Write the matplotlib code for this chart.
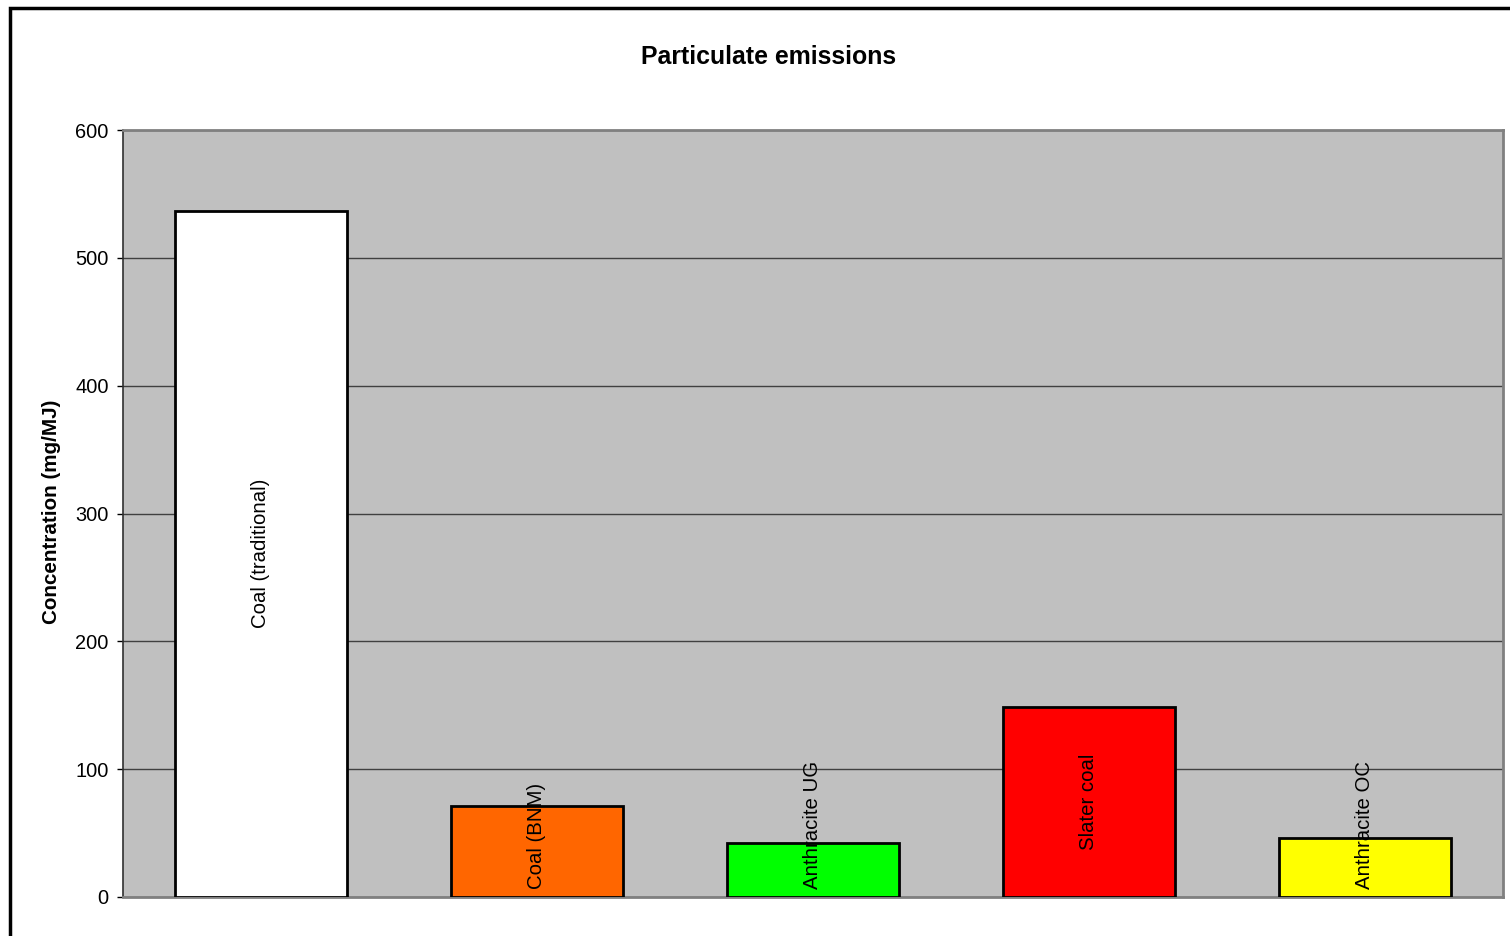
import matplotlib.pyplot as plt
from matplotlib.patches import Rectangle

plt.rcParams['font.family'] = ['Liberation Sans', 'DejaVu Sans']

fuels = ['Coal (traditional)', 'Coal (BNM)', 'Anthracite UG', 'Slater coal', 'Anthracite OC']
emissions = [537, 71, 42, 149, 46]
bar_colors = ['#FFFFFF', '#FF6600', '#00FF00', '#FF0000', '#FFFF00']
yticks = [0, 100, 200, 300, 400, 500, 600]

W, H = 1510, 936
fig = plt.figure(figsize=(W / 100, H / 100), dpi=100)

# outer chart border (only top and left visible in the original)
fig.patches.append(Rectangle((10 / W, -0.1), 1.2, 1.1 - 8 / H, transform=fig.transFigure,
                             fill=False, edgecolor='black', linewidth=2.5, clip_on=False))

ax = fig.add_axes([123 / W, (H - 897) / H, 1380 / W, 767 / H])
ax.set_facecolor('#C0C0C0')

x = range(len(fuels))
ax.bar(x, emissions, width=0.625, color=bar_colors, edgecolor='black', linewidth=2, zorder=3)

ax.set_xlim(-0.5, len(fuels) - 0.5)
ax.set_ylim(0, 600)
ax.set_yticks(yticks)
ax.tick_params(axis='y', labelsize=14.4, length=4.3, width=1, color='black', pad=6)
ax.set_xticks([])
ax.yaxis.grid(True, color='#404040', linewidth=1)
ax.set_axisbelow(True)

for side in ['top', 'right']:
    ax.spines[side].set_color('#808080')
    ax.spines[side].set_linewidth(2)
ax.spines['bottom'].set_color('#808080')
ax.spines['bottom'].set_linewidth(2)
ax.spines['left'].set_color('#303030')
ax.spines['left'].set_linewidth(1.2)

# labels inside bars, pushed up from the base when the bar is too short
for i, (name, v) in enumerate(zip(fuels, emissions)):
    if v > 120:
        ax.text(i, v / 2, name, rotation=90, ha='center', va='center', fontsize=14.7, zorder=4)
    else:
        ax.annotate(name, (i, 0), xytext=(0, 6), textcoords='offset points', rotation=90,
                    ha='center', va='bottom', fontsize=14.7, zorder=4)

fig.text(769 / W, 1 - 57 / H, 'Particulate emissions', ha='center', va='center',
         fontsize=17.9, fontweight='bold')
fig.text(52 / W, 1 - 512 / H, 'Concentration (mg/MJ)', ha='center', va='center',
         rotation=90, fontsize=14.9, fontweight='bold')

fig.savefig('out.png', dpi=100)
